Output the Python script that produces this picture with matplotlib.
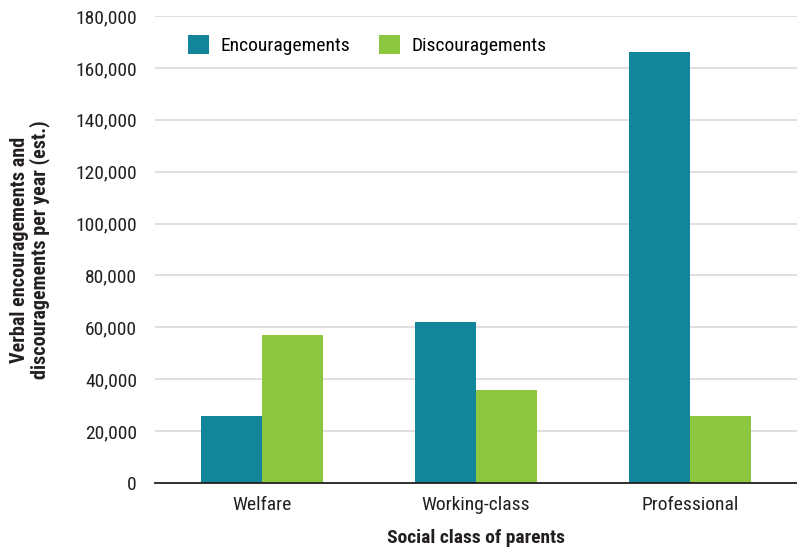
import numpy as np
import matplotlib.pyplot as plt
from matplotlib import font_manager

# Verbal encouragements / discouragements per year by parents' social class
classes = ['Welfare', 'Working-class', 'Professional']
encouragements = [26000, 62000, 166000]
discouragements = [57000, 36000, 26000]

teal = '#12859A'
green = '#8DC63F'

names = {f.name for f in font_manager.fontManager.ttflist}
font = 'DejaVu Sans'
for cand in ['Roboto Condensed', 'DejaVu Sans Condensed', 'Liberation Sans Narrow', 'Lato', 'Roboto']:
    if cand in names:
        font = cand
        break
plt.rcParams['font.family'] = [font, 'DejaVu Sans']

fig = plt.figure(figsize=(7.97, 5.48), dpi=100)
ax = fig.add_axes([155 / 797, 1 - 483 / 548, 642 / 797, 467 / 548])

x = np.arange(len(classes))
w = 0.286
ax.bar(x - w / 2, encouragements, w, color=teal, label='Encouragements', zorder=3)
ax.bar(x + w / 2, discouragements, w, color=green, label='Discouragements', zorder=3)

ax.set_xlim(-0.5, 2.5)
ax.set_ylim(0, 180000)
ax.set_yticks(np.arange(0, 180001, 20000))
ax.yaxis.set_major_formatter(plt.FuncFormatter(lambda v, p: f'{int(v):,}'))
ax.set_xticks(x)
ax.set_xticklabels(classes)
ax.tick_params(axis='both', length=0, labelsize=14, colors='#231F20')
ax.tick_params(axis='y', pad=13)
ax.tick_params(axis='x', pad=9)

ax.grid(axis='y', color='#E2DADC', linewidth=1.3, zorder=0)
for s in ['top', 'right', 'left']:
    ax.spines[s].set_visible(False)
ax.spines['bottom'].set_color('#231F20')
ax.spines['bottom'].set_linewidth(1.3)
ax.spines['bottom'].set_zorder(4)

ax.set_xlabel('Social class of parents', fontsize=14, fontweight='bold', labelpad=11, color='#231F20')
ax.set_ylabel('Verbal encouragements and\ndiscouragements per year (est.)', fontsize=14.5,
              fontweight='bold', labelpad=18, color='#231F20', linespacing=1.05)

ax.legend(loc='upper left', ncol=2, frameon=False, fontsize=14, bbox_to_anchor=(0.024, 0.997),
          handlelength=1.1, handleheight=1.1, columnspacing=1.45, handletextpad=0.6)

fig.savefig('out.png', dpi=100)
